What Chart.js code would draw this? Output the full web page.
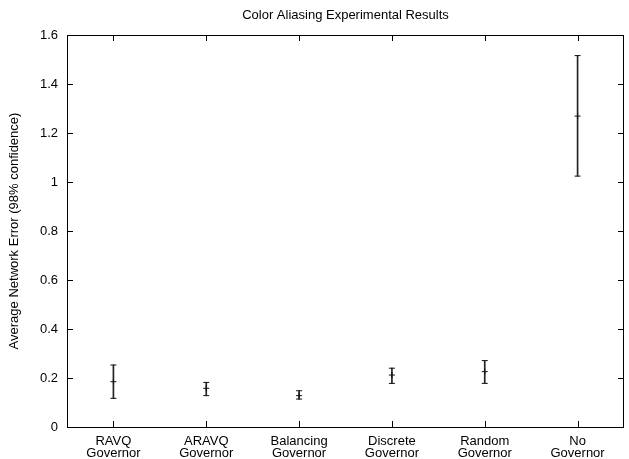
<!DOCTYPE html>
<html><head><meta charset="utf-8">
<script src="https://cdn.jsdelivr.net/npm/chart.js@4/dist/chart.umd.min.js"></script>
<style>html,body{margin:0;padding:0;background:#fff;}#wrap{width:629px;height:459px;}</style>
</head><body><div id="wrap"><canvas id="c" width="629" height="459"></canvas></div>
<script>
const categories = [['RAVQ','Governor'],['ARAVQ','Governor'],['Balancing','Governor'],['Discrete','Governor'],['Random','Governor'],['No','Governor']];
const means = [0.185, 0.158, 0.128, 0.212, 0.226, 1.269];
const lows  = [0.117, 0.128, 0.114, 0.178, 0.178, 1.024];
const highs = [0.253, 0.182, 0.148, 0.240, 0.271, 1.516];
const yTicks = { min: 0, max: 1.6, step: 0.2 };
const titleText = 'Color Aliasing Experimental Results';

const FONT = "'Liberation Sans', Arial, Helvetica, sans-serif";

const frame = {
  id: 'frame',
  afterDraw(chart) {
    const {ctx, chartArea: a, scales} = chart;
    ctx.save();
    ctx.strokeStyle = '#000';
    ctx.lineWidth = 1;
    const L = 6;
    ctx.beginPath();
    scales.y.ticks.forEach(t => {
      const py = Math.round(scales.y.getPixelForValue(t.value)) + 0.5;
      ctx.moveTo(a.left, py); ctx.lineTo(a.left + L, py);
      ctx.moveTo(a.right, py); ctx.lineTo(a.right - L, py);
    });
    categories.forEach((c, i) => {
      const px = Math.round(scales.x.getPixelForValue(i)) + 0.5;
      ctx.moveTo(px, a.bottom); ctx.lineTo(px, a.bottom - L);
      ctx.moveTo(px, a.top); ctx.lineTo(px, a.top + L);
    });
    ctx.stroke();
    ctx.strokeRect(Math.round(a.left) + 0.5, Math.round(a.top) + 0.5, Math.round(a.right - a.left) - 1, Math.round(a.bottom - a.top));
    // title centred over the plot area (gnuplot style)
    ctx.fillStyle = '#000';
    ctx.font = '13px ' + FONT;
    ctx.textAlign = 'center';
    ctx.textBaseline = 'middle';
    ctx.fillText(titleText, (a.left + a.right) / 2, 15);
    ctx.restore();
  }
};

new Chart(document.getElementById('c'), {
  type: 'bar',
  data: {
    labels: categories,
    datasets: [
      { type: 'bar', data: lows.map((l, i) => [l, highs[i]]), backgroundColor: '#222', borderWidth: 0, barThickness: 1, grouped: false, order: 3 },
      { type: 'line', data: highs, showLine: false, pointStyle: 'line', pointRadius: 3, borderColor: '#111', borderWidth: 1, order: 2 },
      { type: 'line', data: lows, showLine: false, pointStyle: 'line', pointRadius: 3, borderColor: '#111', borderWidth: 1, order: 2 },
      { type: 'line', data: means, showLine: false, pointStyle: 'cross', pointRadius: 3, borderColor: '#111', borderWidth: 1, order: 1 }
    ]
  },
  options: {
    responsive: false,
    animation: false,
    events: [],
    layout: { padding: { left: 0, right: 1, top: 35, bottom: 0 } },
    plugins: {
      legend: { display: false },
      tooltip: { enabled: false },
      title: { display: false }
    },
    scales: {
      x: {
        offset: true,
        grid: { display: false, drawTicks: false },
        border: { display: false },
        ticks: { color: '#000', font: { family: FONT, size: 13, lineHeight: '12px' }, padding: 8, maxRotation: 0, autoSkip: false },
        afterFit: s => { s.height = 32; }
      },
      y: {
        min: yTicks.min, max: yTicks.max,
        grid: { display: false, drawTicks: false },
        border: { display: false },
        ticks: { stepSize: yTicks.step, color: '#000', font: { family: FONT, size: 13 }, padding: 9,
          callback: v => String(Math.round(v * 10) / 10) },
        title: { display: true, text: 'Average Network Error (98% confidence)', color: '#000',
          font: { family: FONT, size: 13 }, padding: { top: 6.7, bottom: 0 } },
        afterFit: s => { s.width = 67; }
      }
    }
  },
  plugins: [frame]
});
</script>
</body></html>
